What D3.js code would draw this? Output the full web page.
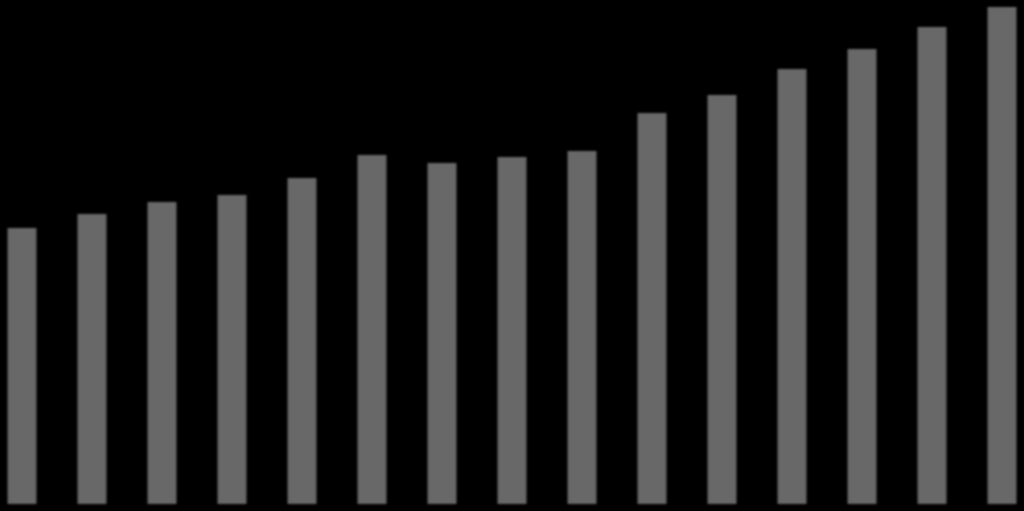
<!DOCTYPE html>
<html>
<head>
<meta charset="utf-8">
<script src="https://cdn.jsdelivr.net/npm/d3@7"></script>
<style>
  html, body { margin: 0; padding: 0; background: #000; overflow: hidden; }
</style>
</head>
<body>
<div class="bar-chart"></div>
<script>
// one bar per period, no labels shown on the chart
const categories = ["1","2","3","4","5","6","7","8","9","10","11","12","13","14","15"]
const values = [276, 290, 302, 309, 326, 349, 341, 347, 353, 391, 409, 435, 455, 477, 497]

const width = 1024
const height = 511

const svg = d3.select(".bar-chart").append("svg")
    .attr("width", width)
    .attr("height", height)
    .style("display", "block")
    .style("background", "#000")

const xScale = d3.scaleBand()
    .domain(categories)
    .range([7.5, 1016.5])
    .paddingInner(0.586)
    .paddingOuter(0)

const yScale = d3.scaleLinear()
    .domain([0, d3.max(values)])
    .range([504, 7])

const data = categories.map((c, i) => ({cat: c, value: values[i]}))

// soft edge, the reference looks slightly blurred
const defs = svg.append("defs")
defs.append("filter")
    .attr("id", "soft")
    .append("feGaussianBlur")
    .attr("stdDeviation", 0.9)

svg.append("g")
    .attr("filter", "url(#soft)")
  .selectAll("rect")
  .data(data)
  .join("rect")
    .attr("x", d => xScale(d.cat))
    .attr("y", d => yScale(d.value))
    .attr("width", xScale.bandwidth())
    .attr("height", d => yScale(0) - yScale(d.value))
    .attr("fill", "#676767")
</script>
</body>
</html>
